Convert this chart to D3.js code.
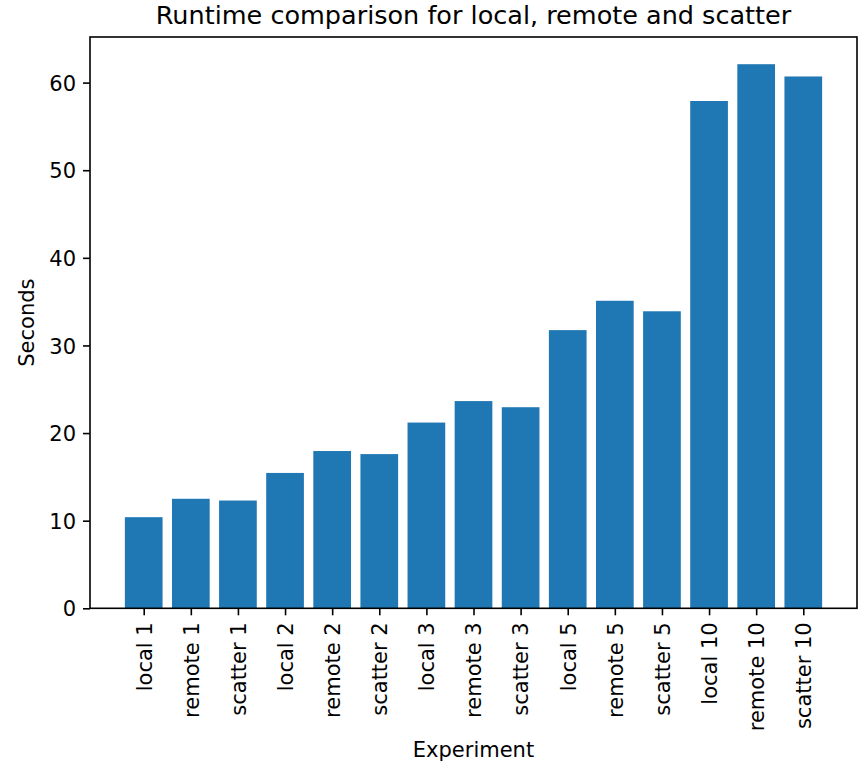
<!DOCTYPE html>
<html>
<head>
<meta charset="utf-8">
<script src="https://cdn.jsdelivr.net/npm/d3@7"></script>
<style>
  html, body { margin: 0; padding: 0; background: #fff; }
  svg text { font-family: "DejaVu Sans", sans-serif; fill: #000; }
</style>
</head>
<body>
<svg id="chart" width="859" height="765"></svg>
<script>
// Experiment runs and their measured runtimes (seconds)
const experiments = [
  "local 1", "remote 1", "scatter 1",
  "local 2", "remote 2", "scatter 2",
  "local 3", "remote 3", "scatter 3",
  "local 5", "remote 5", "scatter 5",
  "local 10", "remote 10", "scatter 10"
];
const seconds = [
  10.4, 12.5, 12.3,
  15.45, 17.95, 17.6,
  21.2, 23.65, 22.95,
  31.75, 35.1, 33.9,
  57.9, 62.1, 60.7
];
const yTicks = [0, 10, 20, 30, 40, 50, 60];

const svg = d3.select("#chart");
const plot = { left: 90, right: 857, top: 37, bottom: 608.3 };
const barWidth = 0.8;

// Index-based x scale with a 5% margin on each side of the bar extent
const xMin = -barWidth / 2, xMax = experiments.length - 1 + barWidth / 2;
const xPad = (xMax - xMin) * 0.05;
const x = d3.scaleLinear()
  .domain([xMin - xPad, xMax + xPad])
  .range([plot.left, plot.right]);

const yMax = d3.max(seconds) * 1.05;
const y = d3.scaleLinear()
  .domain([0, yMax])
  .range([plot.bottom, plot.top]);

// Bars
svg.append("g")
  .selectAll("rect")
  .data(seconds)
  .join("rect")
  .attr("x", (d, i) => x(i - barWidth / 2))
  .attr("width", x(barWidth) - x(0))
  .attr("y", d => y(d))
  .attr("height", d => y(0) - y(d))
  .attr("fill", "#1f77b4");

// Y axis
const yAxis = svg.append("g")
  .attr("transform", `translate(${plot.left},0)`)
  .call(d3.axisLeft(y).tickValues(yTicks).tickSize(7).tickPadding(7));
yAxis.select(".domain").remove();
yAxis.selectAll(".tick line").attr("stroke", "#000").attr("stroke-width", 1.6);
yAxis.selectAll(".tick text").style("font-size", "21px").attr("dy", "0.36em");

// X axis with rotated category labels
const xAxis = svg.append("g")
  .attr("transform", `translate(0,${plot.bottom})`)
  .call(d3.axisBottom(x)
    .tickValues(d3.range(experiments.length))
    .tickFormat(i => experiments[i])
    .tickSize(7));
xAxis.select(".domain").remove();
xAxis.selectAll(".tick line").attr("stroke", "#000").attr("stroke-width", 1.6);
xAxis.selectAll(".tick text")
  .style("font-size", "21px")
  .attr("transform", "rotate(-90)")
  .attr("text-anchor", "end")
  .attr("x", -14)
  .attr("y", 0)
  .attr("dy", "0.35em");

// Axes frame
svg.append("rect")
  .attr("x", plot.left)
  .attr("y", plot.top)
  .attr("width", plot.right - plot.left)
  .attr("height", plot.bottom - plot.top)
  .attr("fill", "none")
  .attr("stroke", "#000")
  .attr("stroke-width", 1.6);

// Title and axis labels
svg.append("text")
  .attr("x", (plot.left + plot.right) / 2)
  .attr("y", 24)
  .attr("text-anchor", "middle")
  .style("font-size", "25.5px")
  .text("Runtime comparison for local, remote and scatter");

svg.append("text")
  .attr("x", (plot.left + plot.right) / 2)
  .attr("y", 757)
  .attr("text-anchor", "middle")
  .style("font-size", "21px")
  .text("Experiment");

svg.append("text")
  .attr("transform", `translate(34,${(plot.top + plot.bottom) / 2}) rotate(-90)`)
  .attr("text-anchor", "middle")
  .style("font-size", "21px")
  .text("Seconds");
</script>
</body>
</html>
